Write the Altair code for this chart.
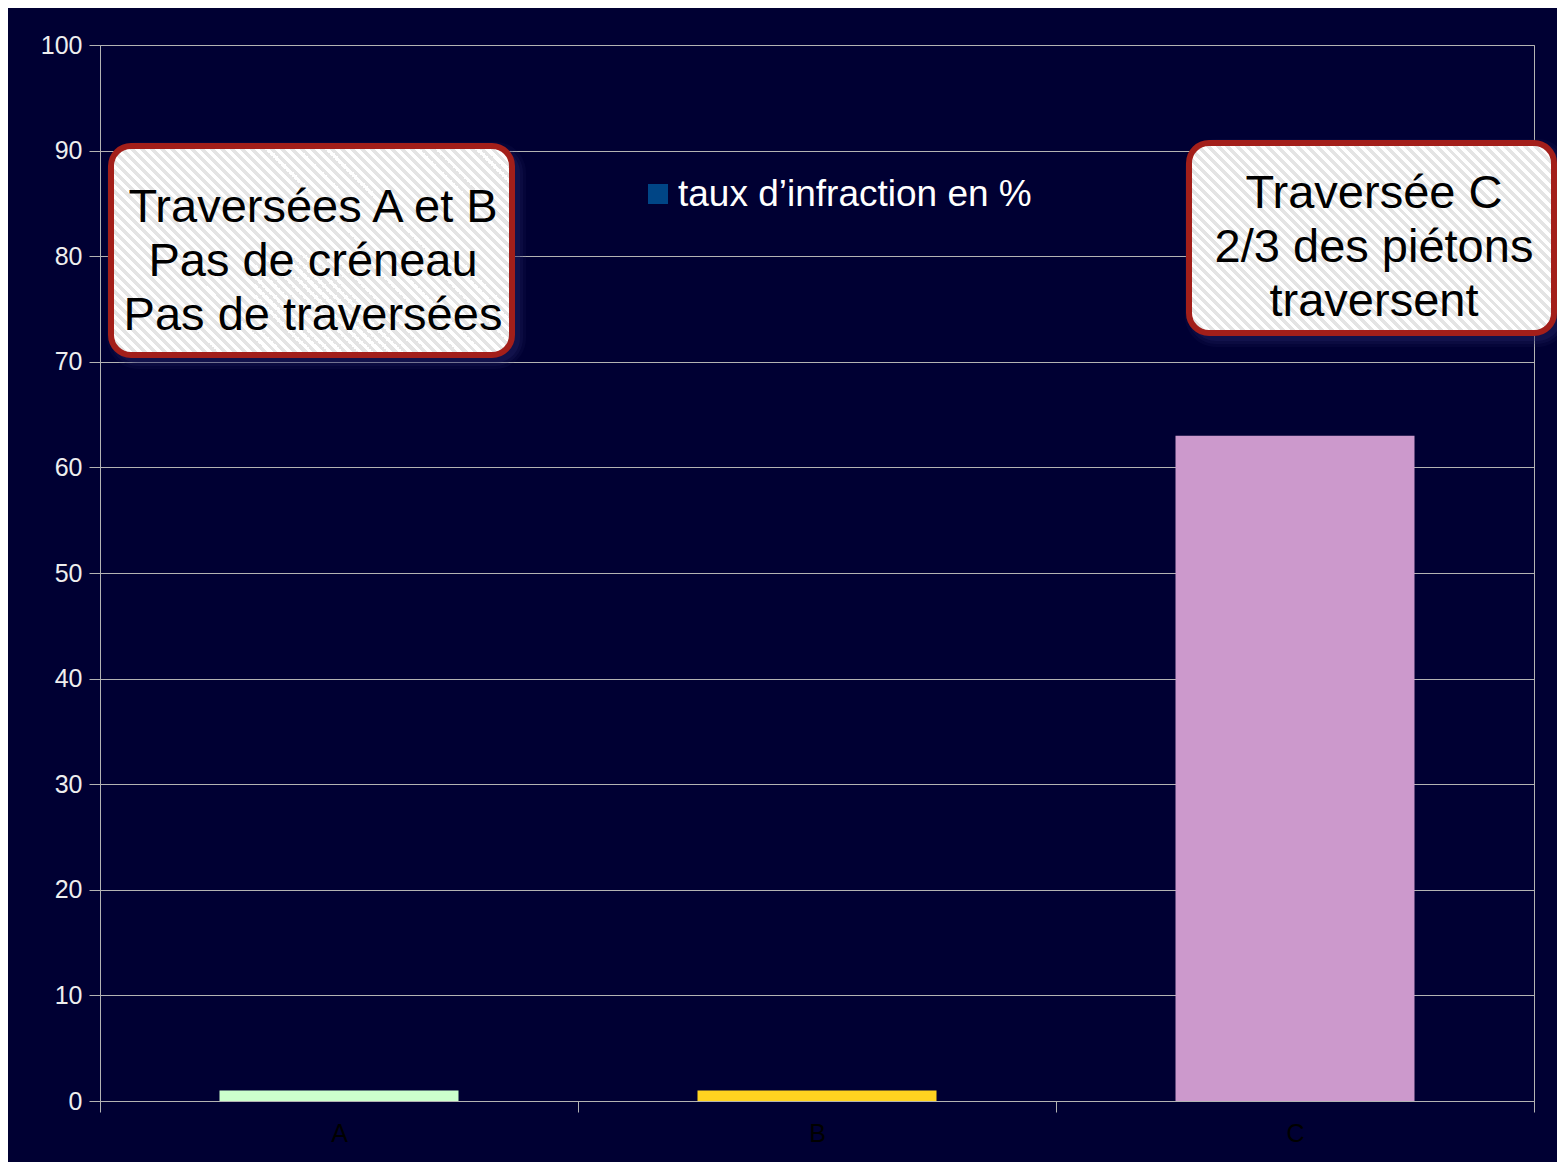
import altair as alt
import pandas as pd

# ---- data ----
categories = ["A", "B", "C"]
values = [1, 1, 63]
bar_colors = ["#ccffcc", "#ffd320", "#cc99cc"]
series_label = "taux d\u2019infraction en %"
y_ticks = [0, 10, 20, 30, 40, 50, 60, 70, 80, 90, 100]
note_left = ["Travers\u00e9es A et B", "Pas de cr\u00e9neau", "Pas de travers\u00e9es"]
note_right = ["Travers\u00e9e C", "2/3 des pi\u00e9tons", "traversent"]

df = pd.DataFrame({"cat": categories, "val": values})

FONT = "Liberation Sans"
BG = "#000033"
GRID = "#b3b3b3"
W, H = 1434, 1056


def stripes(w, h, period=10.0, c1="#ffffff", c2="#e4e4e4"):
    c = (w + h) * w / (w * w + h * h)
    n = int(round((w + h) / period))
    stops = []
    for i in range(n):
        t0, tm, t1 = i / n, (i + 0.5) / n, (i + 1) / n
        stops += [alt.GradientStop(offset=t0, color=c1),
                  alt.GradientStop(offset=tm, color=c1),
                  alt.GradientStop(offset=tm, color=c2),
                  alt.GradientStop(offset=t1, color=c2)]
    return alt.LinearGradient(gradient="linear", stops=stops,
                              x1=0, y1=1, x2=c, y2=1 - c * h / w)


bars = alt.Chart(df).mark_bar(width=alt.RelativeBandSize(0.5)).encode(
    x=alt.X("cat:N", title=None,
            scale=alt.Scale(domain=categories, paddingInner=0, paddingOuter=0),
            axis=alt.Axis(labelAngle=0, labelColor="#000000", labelFontSize=25,
                          labelFont=FONT, labelPadding=9, tickBand="extent",
                          tickSize=11, tickColor=GRID, domainColor=GRID,
                          grid=False)),
    y=alt.Y("val:Q", title=None,
            scale=alt.Scale(domain=[0, 100], nice=False),
            axis=alt.Axis(values=y_ticks, labelColor="#eeeeee", labelFontSize=25,
                          labelFont=FONT, labelPadding=7, tickSize=11,
                          tickColor=GRID, domainColor=GRID, gridColor=GRID,
                          gridWidth=1, grid=True)),
    color=alt.Color("cat:N", scale=alt.Scale(domain=categories, range=bar_colors),
                    legend=None),
)

one = pd.DataFrame({"k": [0]})


def box(x0, x1, y0, y1, lines, cx, cy):
    w, h = x1 - x0, y1 - y0
    layers = []
    for e, op in [(9, 0.12), (6, 0.18), (3, 0.25)]:
        layers.append(alt.Chart(one).mark_rect(
            cornerRadius=22 + e, fill="#26266a", opacity=op).encode(
            x=alt.value(x0 + 5 - e), x2=alt.value(x1 + 5 + e),
            y=alt.value(y0 + 5 - e), y2=alt.value(y1 + 5 + e)))
    layers.append(alt.Chart(one).mark_rect(
        cornerRadius=20, fill=stripes(w, h), stroke="#a31f1a",
        strokeWidth=6).encode(
        x=alt.value(x0), x2=alt.value(x1),
        y=alt.value(y0), y2=alt.value(y1)))
    layers.append(alt.Chart(one).mark_text(
        text=lines, font=FONT, fontSize=47, color="#000000", align="center",
        baseline="middle", lineHeight=54).encode(
        x=alt.value(cx), y=alt.value(cy)))
    return layers


legend_sym = alt.Chart(one).mark_rect(fill="#004586").encode(
    x=alt.value(548), x2=alt.value(568), y=alt.value(139), y2=alt.value(159))
legend_txt = alt.Chart(one).mark_text(
    text=series_label, font=FONT, fontSize=37, color="#ffffff",
    align="left", baseline="middle").encode(x=alt.value(578), y=alt.value(150))

chart = alt.layer(
    bars,
    *box(11, 412, 101, 310, note_left, 213, 163),
    *box(1089, 1454, 98, 288, note_right, 1274, 149),
    legend_sym, legend_txt,
).properties(
    width=W, height=H,
    autosize=alt.AutoSizeParams(type="none"),
    padding={"left": 92, "top": 37, "right": 23, "bottom": 61},
    background=BG,
).configure_view(stroke=GRID, strokeWidth=1)

chart.save("out.html", embed_options={"renderer": "svg", "actions": False})
